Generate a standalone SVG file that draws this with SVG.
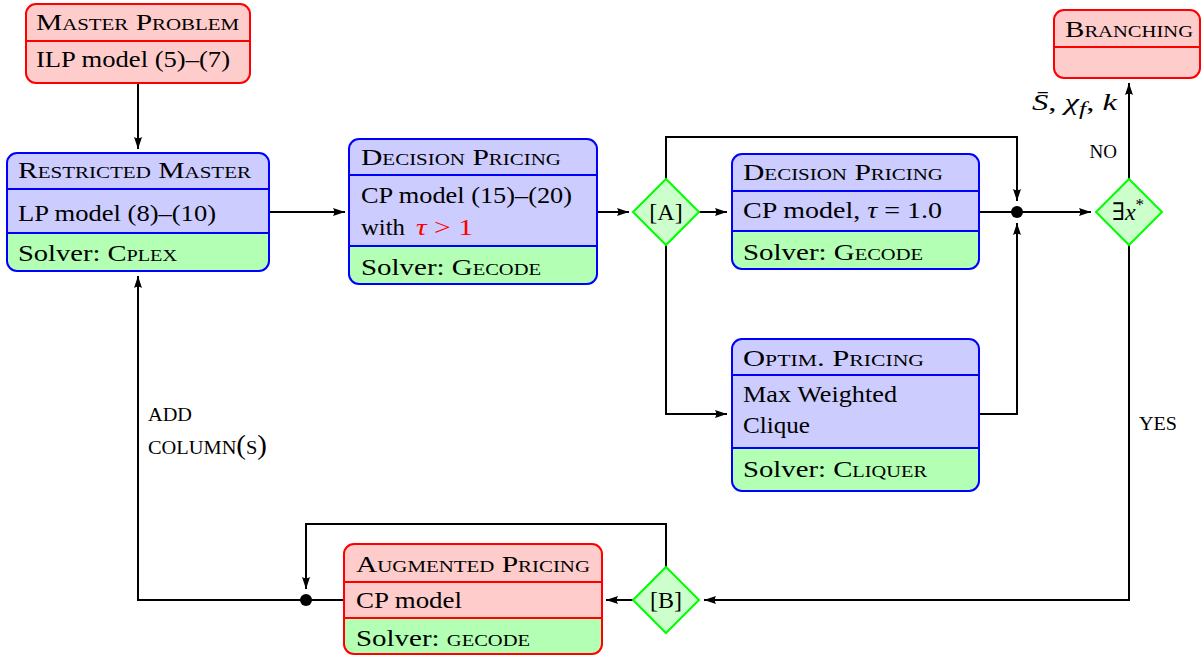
<svg xmlns="http://www.w3.org/2000/svg" width="1201" height="655" viewBox="0 0 1201 655">
<defs>
<style>
text{font-family:"Liberation Serif","Times New Roman","DejaVu Serif",serif;font-size:24px;fill:#000}
.sc{font-variant:small-caps}
.lbl{font-size:27px}
.i{font-style:italic}
.bf{fill:#ccccff}
.rf{fill:#ffcccc}
.gf{fill:#b3ffb3}
.bs{fill:none;stroke:#0000ff;stroke-width:2}
.rs{fill:none;stroke:#ff0000;stroke-width:2}
.dia{fill:#ccffcc;stroke:#00ff00;stroke-width:2}
.c{fill:none;stroke:#000;stroke-width:2}
.a{marker-end:url(#ah)}
.red{fill:#ff0000}
</style>
<marker id="ah" viewBox="0 0 12 8" markerWidth="12" markerHeight="8" refX="12" refY="4" orient="auto" markerUnits="userSpaceOnUse"><path d="M12,4 L0,0 Q2.5,4 0,8 Z" fill="#000"/></marker>
</defs>
<rect width="1201" height="655" fill="#fff"/>

<g id="connectors">
<path class="c a" d="M138,84 V149"/>
<path class="c a" d="M269,212 H345"/>
<path class="c a" d="M597,212 H629"/>
<path class="c a" d="M699,212 H727"/>
<path class="c a" d="M666,179 V137 H1017 V201"/>
<path class="c" d="M979,212 H1017"/>
<path class="c a" d="M1017,212 H1091"/>
<path class="c a" d="M666,245 V414 H727"/>
<path class="c a" d="M979,414 H1017 V223"/>
<path class="c a" d="M1129,179 V83"/>
<path class="c a" d="M1129,245 V600 H704"/>
<path class="c a" d="M633,600 H606"/>
<path class="c a" d="M666,567 V524 H306 V589"/>
<path class="c" d="M344,600 H306"/>
<path class="c a" d="M306,600 H138 V276"/>
<circle cx="1017" cy="212" r="6" fill="#000"/>
<circle cx="306" cy="600" r="6" fill="#000"/>
<text x="1117" y="158" class="sc lbl" text-anchor="end">no</text>
<text x="1032" y="110" font-size="28" textLength="85" lengthAdjust="spacingAndGlyphs"><tspan class="i">S&#772;</tspan>, <tspan class="i">χ</tspan><tspan class="i" font-size="19" dy="5">f</tspan><tspan dy="-5">, </tspan><tspan class="i">k</tspan></text>
<text x="1139" y="430" class="sc lbl" textLength="38" lengthAdjust="spacingAndGlyphs">yes</text>
<text x="148" y="421" class="sc lbl" textLength="44" lengthAdjust="spacingAndGlyphs">add</text>
<text x="148" y="454" class="sc lbl" textLength="119" lengthAdjust="spacingAndGlyphs">column(s)</text>
</g>

<g id="master-problem">
<rect x="26" y="4" width="224" height="79" rx="10" class="rf"/>
<line x1="26" y1="41" x2="250" y2="41" class="rs"/>
<rect x="26" y="4" width="224" height="79" rx="10" class="rs"/>
<text x="36" y="30" class="sc" textLength="203" lengthAdjust="spacingAndGlyphs">Master Problem</text>
<text x="36" y="67" textLength="194" lengthAdjust="spacingAndGlyphs">ILP model (5)–(7)</text>
</g>

<g id="restricted-master">
<rect x="7" y="153" width="262" height="118" rx="10" class="bf"/>
<path class="gf" d="M7,233 H269 V261 A10,10 0 0 1 259,271 H17 A10,10 0 0 1 7,261 Z"/>
<line x1="7" y1="189" x2="269" y2="189" class="bs"/>
<line x1="7" y1="233" x2="269" y2="233" class="bs"/>
<rect x="7" y="153" width="262" height="118" rx="10" class="bs"/>
<text x="18" y="178" class="sc" textLength="233" lengthAdjust="spacingAndGlyphs">Restricted Master</text>
<text x="18" y="221" textLength="198" lengthAdjust="spacingAndGlyphs">LP model (8)–(10)</text>
<text x="18" y="261" textLength="159" lengthAdjust="spacingAndGlyphs">Solver: <tspan class="sc">Cplex</tspan></text>
</g>

<g id="decision-pricing-1">
<rect x="349" y="139" width="248" height="145" rx="10" class="bf"/>
<path class="gf" d="M349,246 H597 V274 A10,10 0 0 1 587,284 H359 A10,10 0 0 1 349,274 Z"/>
<line x1="349" y1="175" x2="597" y2="175" class="bs"/>
<line x1="349" y1="246" x2="597" y2="246" class="bs"/>
<rect x="349" y="139" width="248" height="145" rx="10" class="bs"/>
<text x="361" y="165" class="sc" textLength="200" lengthAdjust="spacingAndGlyphs">Decision Pricing</text>
<text x="361" y="203" textLength="211" lengthAdjust="spacingAndGlyphs">CP model (15)–(20)</text>
<text x="361" y="235" textLength="44" lengthAdjust="spacingAndGlyphs">with</text>
<text x="416" y="235" class="red" font-size="26" textLength="57" lengthAdjust="spacingAndGlyphs"><tspan class="i">τ</tspan> &gt; 1</text>
<text x="361" y="275" textLength="180" lengthAdjust="spacingAndGlyphs">Solver: <tspan class="sc">Gecode</tspan></text>
</g>

<g id="decision-A">
<polygon class="dia" points="666,179 699,212 666,245 633,212"/>
<text x="666" y="220" text-anchor="middle">[A]</text>
</g>

<g id="decision-pricing-2">
<rect x="732" y="154" width="247" height="115" rx="10" class="bf"/>
<path class="gf" d="M732,231 H979 V259 A10,10 0 0 1 969,269 H742 A10,10 0 0 1 732,259 Z"/>
<line x1="732" y1="191" x2="979" y2="191" class="bs"/>
<line x1="732" y1="231" x2="979" y2="231" class="bs"/>
<rect x="732" y="154" width="247" height="115" rx="10" class="bs"/>
<text x="743" y="180" class="sc" textLength="200" lengthAdjust="spacingAndGlyphs">Decision Pricing</text>
<text x="743" y="218" textLength="199" lengthAdjust="spacingAndGlyphs">CP model, <tspan class="i">τ</tspan> = 1.0</text>
<text x="743" y="260" textLength="180" lengthAdjust="spacingAndGlyphs">Solver: <tspan class="sc">Gecode</tspan></text>
</g>

<g id="optim-pricing">
<rect x="732" y="339" width="247" height="152" rx="10" class="bf"/>
<path class="gf" d="M732,448 H979 V481 A10,10 0 0 1 969,491 H742 A10,10 0 0 1 732,481 Z"/>
<line x1="732" y1="375" x2="979" y2="375" class="bs"/>
<line x1="732" y1="448" x2="979" y2="448" class="bs"/>
<rect x="732" y="339" width="247" height="152" rx="10" class="bs"/>
<text x="743" y="366" class="sc" textLength="181" lengthAdjust="spacingAndGlyphs">Optim. Pricing</text>
<text x="743" y="402" textLength="154" lengthAdjust="spacingAndGlyphs">Max Weighted</text>
<text x="743" y="433" textLength="67" lengthAdjust="spacingAndGlyphs">Clique</text>
<text x="743" y="477" textLength="184" lengthAdjust="spacingAndGlyphs">Solver: <tspan class="sc">Cliquer</tspan></text>
</g>

<g id="exists-x">
<polygon class="dia" points="1129,179 1162,212 1129,245 1096,212"/>
<text x="1128" y="220" text-anchor="middle" font-size="26">∃<tspan class="i">x</tspan><tspan font-size="17" dy="-10">*</tspan></text>
</g>

<g id="branching">
<rect x="1054" y="10" width="146" height="68" rx="10" class="rf"/>
<line x1="1054" y1="47" x2="1200" y2="47" class="rs"/>
<rect x="1054" y="10" width="146" height="68" rx="10" class="rs"/>
<text x="1065" y="37" class="sc" textLength="128" lengthAdjust="spacingAndGlyphs">Branching</text>
</g>

<g id="decision-B">
<polygon class="dia" points="666,567 699,600 666,633 633,600"/>
<text x="666" y="608" text-anchor="middle">[B]</text>
</g>

<g id="augmented-pricing">
<rect x="344" y="544" width="258" height="110" rx="10" class="rf"/>
<path class="gf" d="M344,618 H602 V644 A10,10 0 0 1 592,654 H354 A10,10 0 0 1 344,644 Z"/>
<line x1="344" y1="582" x2="602" y2="582" class="rs"/>
<line x1="344" y1="618" x2="602" y2="618" class="rs"/>
<rect x="344" y="544" width="258" height="110" rx="10" class="rs"/>
<text x="356" y="572" class="sc" textLength="234" lengthAdjust="spacingAndGlyphs">Augmented Pricing</text>
<text x="356" y="608" textLength="106" lengthAdjust="spacingAndGlyphs">CP model</text>
<text x="356" y="646" textLength="174" lengthAdjust="spacingAndGlyphs">Solver: <tspan class="sc">gecode</tspan></text>
</g>
</svg>
